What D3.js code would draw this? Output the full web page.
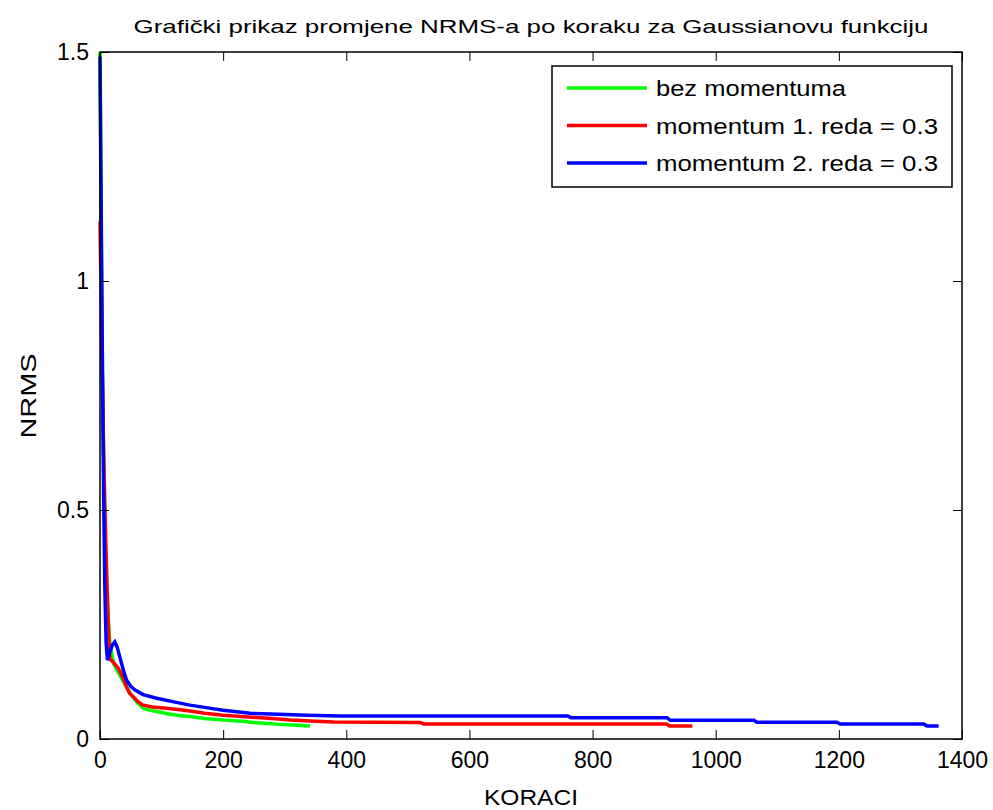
<!DOCTYPE html>
<html lang="hr">
<head>
<meta charset="UTF-8">
<title>NRMS po koraku</title>
<script src="https://d3js.org/d3.v7.min.js"></script>
<style>
    *{padding:0; margin:0; box-sizing:border-box;}
    body{background:#fff; width:993px; height:810px; overflow:hidden;}
    text{font-family:"Liberation Sans", Arial, Helvetica, sans-serif; fill:#000;}
    .tick line{stroke:#000;}
</style>
</head>
<body>
<script>
    // podaci procitani sa slike
    const xTicks = [0, 200, 400, 600, 800, 1000, 1200, 1400];
    const yTicks = [0, 0.5, 1, 1.5];
    const seriesNames = ["bez momentuma", "momentum 1. reda = 0.3", "momentum 2. reda = 0.3"];
    const seriesColors = ["#00ff00", "#ff0000", "#0000ff"];

    const stepsGreen = [0, 2, 4, 6, 8, 10, 13, 16, 22, 30, 38, 49, 60, 70, 80, 92, 110, 130, 146, 170, 200, 230, 254, 290, 320, 341];
    const nrmsGreen  = [1.5, 1.1, 0.8, 0.6, 0.46, 0.37, 0.27, 0.21, 0.165, 0.145, 0.125, 0.10, 0.08, 0.067, 0.063, 0.060, 0.055, 0.051, 0.049, 0.045, 0.0415, 0.039, 0.0356, 0.032, 0.030, 0.0284];

    const stepsRed = [0, 2, 4, 6, 8, 10, 12, 14, 16, 20, 30, 37, 43, 48, 54, 62, 70, 85, 108, 130, 146, 170, 200, 230, 254, 280, 309, 350, 380, 520, 526, 920, 925, 962];
    const nrmsRed  = [1.13, 0.95, 0.78, 0.62, 0.5, 0.4, 0.31, 0.23, 0.175, 0.17, 0.154, 0.135, 0.114, 0.1, 0.092, 0.081, 0.074, 0.07, 0.067, 0.064, 0.061, 0.056, 0.052, 0.049, 0.047, 0.045, 0.0415, 0.039, 0.037, 0.036, 0.0328, 0.0328, 0.0284, 0.0284];

    const stepsBlue = [0, 2, 4, 6, 8, 10, 12, 16, 20, 24, 28, 33, 38, 43, 50, 57, 70, 92, 120, 146, 175, 200, 244, 290, 336, 390, 760, 765, 921, 926, 1062, 1067, 1197, 1202, 1338, 1343, 1362];
    const nrmsBlue  = [1.49, 1.15, 0.8, 0.52, 0.32, 0.21, 0.172, 0.19, 0.205, 0.212, 0.2, 0.175, 0.15, 0.129, 0.115, 0.107, 0.097, 0.089, 0.081, 0.074, 0.068, 0.063, 0.056, 0.054, 0.052, 0.050, 0.050, 0.0466, 0.0466, 0.041, 0.041, 0.0364, 0.0364, 0.0328, 0.0328, 0.0284, 0.0284];

    const series = [
        {name: seriesNames[0], color: seriesColors[0], pts: d3.zip(stepsGreen, nrmsGreen), w: 190},
        {name: seriesNames[1], color: seriesColors[1], pts: d3.zip(stepsRed, nrmsRed), w: 282},
        {name: seriesNames[2], color: seriesColors[2], pts: d3.zip(stepsBlue, nrmsBlue), w: 282}
    ];

    const pL = 100, pR = 962, pT = 52, pB = 739;
    const x = d3.scaleLinear().domain([0, 1400]).range([pL, pR]);
    const y = d3.scaleLinear().domain([0, 1.5]).range([pB, pT]);

    const svg = d3.select('body').append('svg')
                  .attr('width', 993).attr('height', 810);

    svg.append('rect').attr('x', 0).attr('y', 0).attr('width', 993).attr('height', 810).attr('fill', '#fff');

    //linije podataka
    const line = d3.line().x(d => x(d[0])).y(d => y(d[1]));
    svg.append('g').selectAll('path')
        .data(series)
        .enter().append('path')
        .attr('d', d => line(d.pts))
        .attr('fill', 'none')
        .attr('stroke', d => d.color)
        .attr('stroke-width', 3.5)
        .attr('stroke-linejoin', 'miter');

    //osi (tickovi prema unutra, matlab stil)
    const tl = 9;
    svg.append('g').attr('transform', `translate(0,${pB})`)
        .call(d3.axisBottom(x).tickValues(xTicks).tickFormat(d => String(d)).tickSizeInner(-tl).tickSizeOuter(0).tickPadding(13))
        .call(g => g.select('.domain').remove())
        .selectAll('text').attr('font-size', 23).attr('font-family', '"Liberation Sans", Arial, sans-serif');
    svg.append('g').attr('transform', `translate(0,${pT})`)
        .call(d3.axisTop(x).tickValues(xTicks).tickSizeInner(-tl).tickSizeOuter(0).tickFormat(''))
        .call(g => g.select('.domain').remove());
    svg.append('g').attr('transform', `translate(${pL},0)`)
        .call(d3.axisLeft(y).tickValues(yTicks).tickFormat(d => String(d)).tickSizeInner(-tl).tickSizeOuter(0).tickPadding(11))
        .call(g => g.select('.domain').remove())
        .selectAll('text').attr('font-size', 23).attr('font-family', '"Liberation Sans", Arial, sans-serif');
    svg.append('g').attr('transform', `translate(${pR},0)`)
        .call(d3.axisRight(y).tickValues(yTicks).tickSizeInner(-tl).tickSizeOuter(0).tickFormat(''))
        .call(g => g.select('.domain').remove());

    //okvir
    svg.append('rect')
        .attr('x', pL).attr('y', pT)
        .attr('width', pR - pL).attr('height', pB - pT)
        .attr('fill', 'none').attr('stroke', '#000').attr('stroke-width', 1.5);

    //naslov i oznake osi
    svg.append('text').attr('x', 531).attr('y', 33)
        .attr('text-anchor', 'middle').attr('font-size', 19)
        .attr('textLength', 795).attr('lengthAdjust', 'spacingAndGlyphs')
        .text('Grafički prikaz promjene NRMS-a po koraku za Gaussianovu funkciju');
    svg.append('text').attr('x', 531).attr('y', 805)
        .attr('text-anchor', 'middle').attr('font-size', 22)
        .attr('textLength', 94).attr('lengthAdjust', 'spacingAndGlyphs')
        .text('KORACI');
    svg.append('text').attr('transform', 'translate(36,396) rotate(-90)')
        .attr('text-anchor', 'middle').attr('font-size', 22)
        .attr('textLength', 85).attr('lengthAdjust', 'spacingAndGlyphs')
        .text('NRMS');

    //legenda
    const lg = svg.append('g').attr('transform', 'translate(552,66)');
    lg.append('rect').attr('width', 400).attr('height', 121)
        .attr('fill', '#fff').attr('stroke', '#000').attr('stroke-width', 1.5);
    const items = lg.selectAll('g.item').data(series).enter().append('g')
        .attr('class', 'item')
        .attr('transform', (d, i) => `translate(0,${22 + i * 37.5})`);
    items.append('line').attr('x1', 15).attr('x2', 95)
        .attr('stroke', d => d.color).attr('stroke-width', 3.5);
    items.append('text').attr('x', 104).attr('y', 8)
        .attr('font-size', 22)
        .attr('textLength', d => d.w).attr('lengthAdjust', 'spacingAndGlyphs')
        .text(d => d.name);
</script>
</body>
</html>
